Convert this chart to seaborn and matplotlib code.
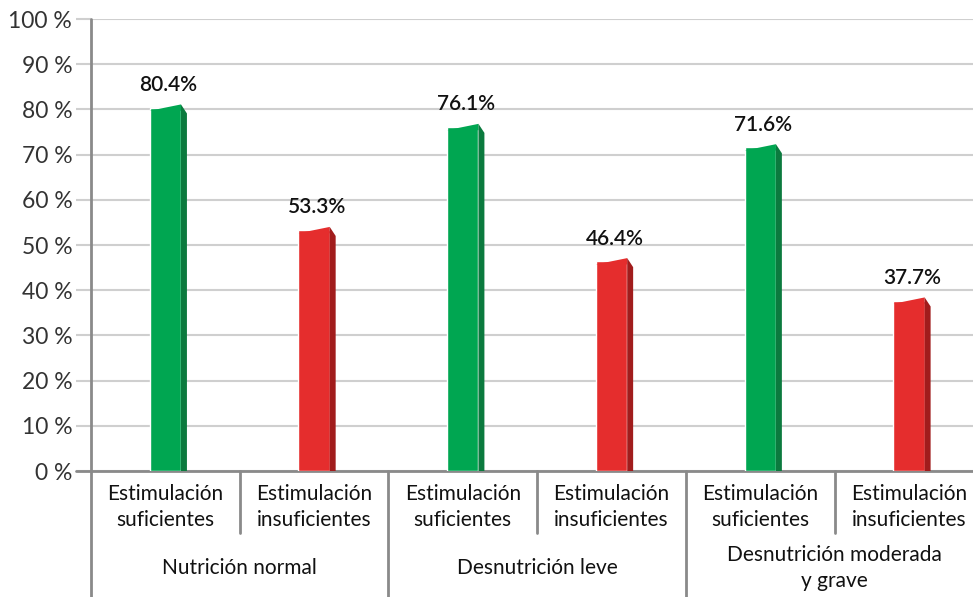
import numpy as np
import pandas as pd
import matplotlib
matplotlib.use("Agg")
import matplotlib.pyplot as plt
import matplotlib.transforms as mtransforms
from matplotlib.patches import Polygon
import seaborn as sns

# data
groups = ["Nutrición normal", "Desnutrición leve", "Desnutrición moderada\ny grave"]
stim = ["Estimulación\nsuficientes", "Estimulación\ninsuficientes"]
values = [80.4, 53.3, 76.1, 46.4, 71.6, 37.7]
value_labels = ["80.4%", "53.3%", "76.1%", "46.4%", "71.6%", "37.7%"]
y_ticks = [0, 10, 20, 30, 40, 50, 60, 70, 80, 90, 100]
y_tick_labels = ["0 %", "10 %", "20 %", "30 %", "40 %", "50 %", "60 %", "70 %", "80 %", "90 %", "100 %"]

front = {"suf": "#00A651", "insuf": "#E52D2D"}
side = {"suf": "#0B7A3E", "insuf": "#A11C1C"}

rows = []
for gi, g in enumerate(groups):
    for si, s in enumerate(stim):
        rows.append({"key": f"{gi}-{si}", "group": g, "stim": s,
                     "kind": "suf" if si == 0 else "insuf",
                     "value": values[gi * 2 + si]})
df = pd.DataFrame(rows)

sns.set_theme(style="white")
plt.rcParams["font.family"] = ["Lato", "DejaVu Sans"]

fig = plt.figure(figsize=(9.73, 5.97), dpi=100)
ax = fig.add_axes([91 / 973, 126 / 597, 1 - 91 / 973, 452 / 597])

bw = 0.21
sns.barplot(data=df, x="key", y="value", hue="kind", palette=front,
            dodge=False, width=bw, legend=False, ax=ax, zorder=3,
            saturation=1)

ax.set_ylim(0, 100)
ax.set_xlim(-0.5, 5.43)

# 3D-ish side faces and slanted tops
bars = sorted([p for p in ax.patches if p.get_height() > 0], key=lambda r: r.get_x())
for i, p in enumerate(bars):
    kind = df["kind"][i]
    x0 = p.get_x()
    x1 = x0 + p.get_width()
    h = p.get_height()
    ax.add_patch(Polygon([(x0, h - 0.7), (x1, h + 0.7), (x1, h - 0.7)],
                         closed=True, color=front[kind], lw=0, zorder=3))
    ax.add_patch(Polygon([(x1, 0), (x1, h + 0.7), (x1 + 0.04, h - 1.3), (x1 + 0.04, 0)],
                         closed=True, color=side[kind], lw=0, zorder=3))
    ax.text(x0 + p.get_width() / 2 + 0.02, h + 5.0, value_labels[i],
            ha="center", va="center", fontsize=15, fontweight="semibold", color="#111111")

ax.set_yticks(y_ticks)
ax.set_yticklabels(y_tick_labels, fontsize=16.5, fontweight="normal", color="#333333")
ax.set_xticks([])
ax.set_xlabel("")
ax.set_ylabel("")
ax.grid(axis="y", color="#CFCFCF", lw=1.5, zorder=0)
ax.tick_params(axis="y", length=10.5, width=1.5, color="#CFCFCF", pad=3, left=True)

for s in ["top", "right", "left"]:
    ax.spines[s].set_visible(False)
ax.spines["bottom"].set_color("#8A8A8A")
ax.spines["bottom"].set_linewidth(2)

trans = mtransforms.blended_transform_factory(ax.transData, ax.transAxes)
line_kw = dict(color="#8A8A8A", lw=2, transform=trans, clip_on=False, zorder=4)

# left axis line, running down through the label rows
ax.plot([-0.5, -0.5], [1.0, -0.28], **line_kw)
ax.plot([-0.5 - 0.1, -0.5], [0, 0], color="#8A8A8A", lw=2, transform=trans, clip_on=False)

for xs in [0.5, 2.5, 4.5]:
    ax.plot([xs, xs], [0, -0.137], **line_kw)
for xs in [1.5, 3.5]:
    ax.plot([xs, xs], [0, -0.28], **line_kw)

for i, s in enumerate(stim * len(groups)):
    ax.text(i, -0.08, s, transform=trans, ha="center", va="center",
            fontsize=15, linespacing=1.4, color="#111111")
for gi, g in enumerate(groups):
    ax.text(gi * 2 + 0.5, -0.215, g, transform=trans, ha="center", va="center",
            fontsize=15, linespacing=1.4, color="#111111")

fig.savefig("out.png", dpi=100)
